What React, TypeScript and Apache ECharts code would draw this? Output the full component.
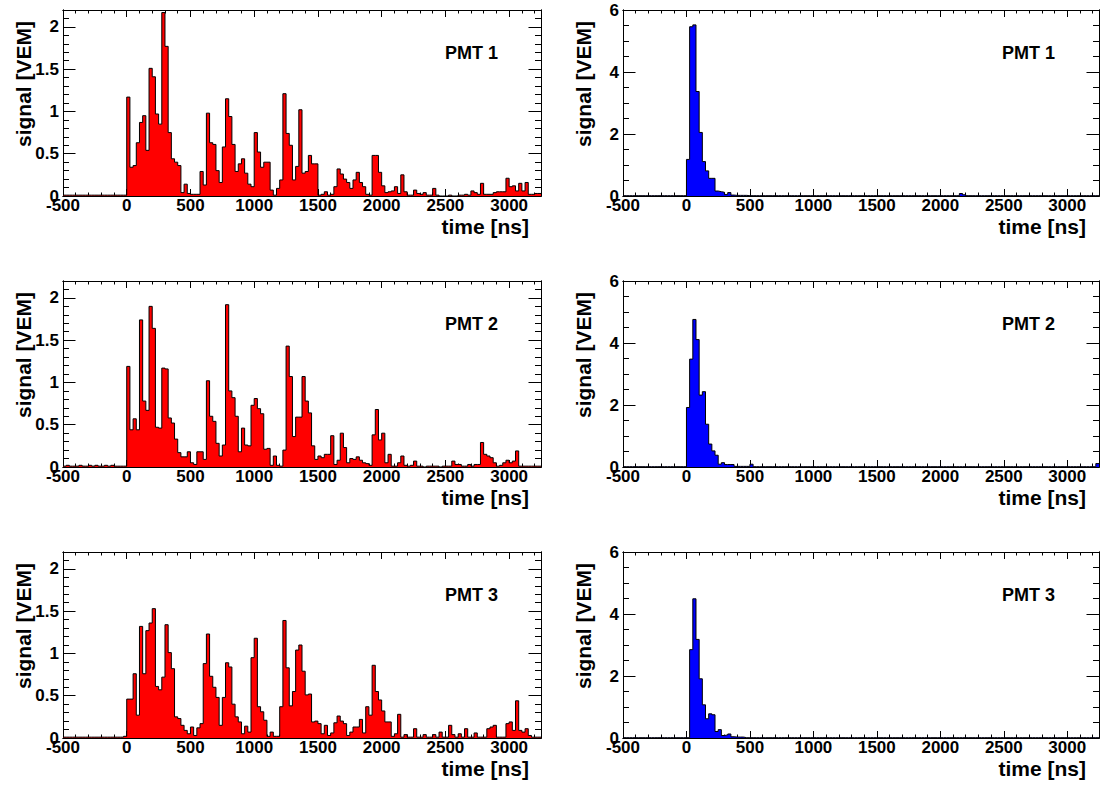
import React, { useEffect, useRef } from "react";
import * as echarts from "echarts";

// ---- binning / axis data ----
const BIN_START = -500; // ns, lower edge of first bin
const BIN_WIDTH = 25; // ns
const X_MIN = -500;
const X_MAX = 3250;
const X_MAJOR = 500;
const X_MINOR = 100;

// pre-trigger bins (-500 .. 0 ns)
const PRE_RED_1 = [0.01, 0.01, 0.01, 0.01, 0.01, 0.01, 0.01, 0.01, 0.01, 0.01, 0.01, 0.01, 0.01, 0.01, 0.01, 0.01, 0.01, 0.01, 0.01, 0.01];
const PRE_RED_2 = [0.01, 0.02, 0.01, 0.01, 0.01, 0.02, 0.01, 0.01, 0.02, 0.01, 0.02, 0.01, 0.01, 0.02, 0.01, 0.02, 0.01, 0.01, 0.01, 0.01];
const PRE_RED_3 = [0.01, 0.01, 0.01, 0.01, 0.01, 0.01, 0.01, 0.01, 0.01, 0.01, 0.01, 0.01, 0.01, 0.01, 0.01, 0.01, 0.01, 0.01, 0.01, 0.02];
const PRE_BLUE_1 = [0.01, 0.01, 0.01, 0.01, 0.01, 0.01, 0.01, 0.01, 0.01, 0.01, 0.01, 0.01, 0.01, 0.01, 0.01, 0.01, 0.01, 0.01, 0.01, 0.01];
const PRE_BLUE_2 = [0.01, 0.01, 0.01, 0.01, 0.01, 0.01, 0.01, 0.01, 0.01, 0.01, 0.01, 0.01, 0.01, 0.01, 0.01, 0.01, 0.01, 0.01, 0.01, 0.01];
const PRE_BLUE_3 = [0.01, 0.01, 0.01, 0.01, 0.01, 0.01, 0.01, 0.01, 0.01, 0.01, 0.01, 0.01, 0.01, 0.01, 0.01, 0.01, 0.01, 0.01, 0.01, 0.01];

// signal bins from 0 ns on [VEM]
const RED_1 = [
  1.17, 0.34, 0.36, 0.63, 0.87, 0.95, 0.54, 1.51, 1.41, 0.97,
  0.85, 2.17, 1.77, 0.75, 0.44, 0.40, 0.36, 0.04, 0.14, 0.03,
  0.02, 0.02, 0.02, 0.29, 0.13, 0.98, 0.63, 0.61, 0.30, 0.16,
  0.58, 1.15, 0.94, 0.61, 0.29, 0.38, 0.44, 0.27, 0.14, 0.11,
  0.75, 0.52, 0.34, 0.40, 0.40, 0.07, 0.01, 0.09, 0.19, 1.21,
  0.74, 0.60, 0.19, 0.35, 1.02, 0.27, 0.29, 0.48, 0.38, 0.38,
  0.01, 0.02, 0.05, 0.01, 0.02, 0.11, 0.32, 0.26, 0.20, 0.16,
  0.09, 0.19, 0.28, 0.16, 0.11, 0.02, 0.01, 0.48, 0.48, 0.28,
  0.12, 0.04, 0.05, 0.06, 0.11, 0.03, 0.25, 0.05, 0.01, 0.01,
  0.07, 0.03, 0.02, 0.04, 0.01, 0.01, 0.09, 0.01, 0.00, 0.00,
  0.00, 0.01, 0.00, 0.00, 0.01, 0.01, 0.02, 0.01, 0.06, 0.04,
  0.02, 0.15, 0.02, 0.02, 0.02, 0.04, 0.05, 0.05, 0.05, 0.21,
  0.11, 0.12, 0.06, 0.15, 0.06, 0.16, 0.02, 0.02, 0.03, 0.03,
];
const RED_2 = [
  1.19, 0.44, 0.57, 0.44, 1.74, 0.78, 0.67, 1.90, 1.64, 0.47,
  0.46, 1.17, 1.16, 0.58, 0.52, 0.33, 0.17, 0.12, 0.12, 0.18,
  0.05, 0.03, 0.18, 0.18, 0.09, 1.02, 0.60, 0.54, 0.28, 0.13,
  0.26, 1.92, 0.90, 0.82, 0.60, 0.18, 0.46, 0.26, 0.25, 0.73,
  0.81, 0.69, 0.63, 0.21, 0.22, 0.02, 0.13, 0.02, 0.01, 0.20,
  1.43, 1.07, 0.36, 0.59, 0.59, 1.07, 0.78, 0.64, 0.25, 0.09,
  0.13, 0.11, 0.15, 0.15, 0.37, 0.03, 0.08, 0.40, 0.23, 0.05,
  0.10, 0.09, 0.12, 0.08, 0.05, 0.04, 0.02, 0.38, 0.68, 0.32,
  0.40, 0.05, 0.15, 0.01, 0.01, 0.05, 0.13, 0.02, 0.01, 0.02,
  0.07, 0.01, 0.01, 0.00, 0.01, 0.01, 0.01, 0.01, 0.00, 0.01,
  0.01, 0.01, 0.07, 0.03, 0.03, 0.01, 0.01, 0.03, 0.01, 0.03,
  0.03, 0.29, 0.15, 0.13, 0.11, 0.05, 0.01, 0.02, 0.05, 0.08,
  0.05, 0.07, 0.19, 0.01, 0.01, 0.01, 0.01, 0.01, 0.01, 0.01,
];
const RED_3 = [
  0.46, 0.46, 0.76, 0.27, 1.32, 0.76, 1.27, 1.36, 1.53, 0.61,
  0.57, 0.72, 1.34, 1.01, 0.82, 0.25, 0.23, 0.15, 0.09, 0.05,
  0.13, 0.03, 0.12, 0.17, 0.88, 1.23, 0.73, 0.60, 0.48, 0.15,
  0.48, 0.89, 0.84, 0.40, 0.25, 0.19, 0.05, 0.14, 0.07, 0.95,
  1.18, 0.37, 0.31, 0.21, 0.02, 0.07, 0.02, 0.02, 0.37, 1.39,
  0.83, 0.38, 0.55, 1.04, 1.10, 0.79, 0.51, 0.52, 0.19, 0.20,
  0.17, 0.05, 0.15, 0.03, 0.06, 0.18, 0.26, 0.20, 0.17, 0.03,
  0.07, 0.13, 0.13, 0.22, 0.06, 0.37, 0.27, 0.86, 0.55, 0.45,
  0.32, 0.19, 0.19, 0.02, 0.05, 0.28, 0.01, 0.04, 0.01, 0.01,
  0.11, 0.01, 0.01, 0.04, 0.01, 0.01, 0.04, 0.01, 0.07, 0.01,
  0.01, 0.15, 0.04, 0.01, 0.05, 0.01, 0.11, 0.01, 0.01, 0.06,
  0.01, 0.01, 0.01, 0.11, 0.13, 0.15, 0.01, 0.01, 0.01, 0.17,
  0.19, 0.09, 0.44, 0.09, 0.07, 0.11, 0.03, 0.01, 0.01, 0.01,
];
const BLUE_1 = [
  1.18, 5.46, 5.52, 3.37, 2.05, 1.11, 0.81, 0.57, 0.57, 0.16,
  0.14, 0.12, 0.05, 0.11, 0.03, 0.02, 0.02, 0.02, 0.02, 0.01,
  0.01, 0.01, 0.01, 0.01, 0.01, 0.01, 0.01, 0.01, 0.01, 0.01,
  0.01, 0.01, 0.01, 0.01, 0.01, 0.01, 0.01, 0.01, 0.01, 0.01,
  0.01, 0.01, 0.01, 0.01, 0.01, 0.01, 0.01, 0.01, 0.01, 0.01,
  0.01, 0.01, 0.01, 0.01, 0.01, 0.01, 0.01, 0.01, 0.01, 0.01,
  0.01, 0.01, 0.01, 0.01, 0.01, 0.01, 0.01, 0.01, 0.01, 0.01,
  0.01, 0.01, 0.01, 0.01, 0.01, 0.01, 0.01, 0.01, 0.01, 0.01,
  0.01, 0.01, 0.01, 0.01, 0.01, 0.01, 0.08, 0.04, 0.01, 0.01,
  0.01, 0.01, 0.01, 0.01, 0.01, 0.01, 0.01, 0.01, 0.01, 0.01,
  0.01, 0.01, 0.01, 0.01, 0.01, 0.01, 0.01, 0.01, 0.01, 0.01,
  0.01, 0.01, 0.01, 0.01, 0.01, 0.01, 0.01, 0.01, 0.01, 0.01,
  0.01, 0.01, 0.01, 0.01, 0.01, 0.01, 0.01, 0.01, 0.01, 0.01,
];
const BLUE_2 = [
  1.92, 3.48, 4.76, 4.11, 2.32, 2.43, 1.38, 0.74, 0.52, 0.38,
  0.09, 0.14, 0.08, 0.08, 0.08, 0.02, 0.02, 0.02, 0.02, 0.02,
  0.09, 0.01, 0.01, 0.01, 0.01, 0.01, 0.01, 0.01, 0.01, 0.01,
  0.01, 0.01, 0.01, 0.01, 0.01, 0.01, 0.01, 0.01, 0.01, 0.01,
  0.01, 0.01, 0.01, 0.01, 0.01, 0.01, 0.01, 0.01, 0.01, 0.01,
  0.01, 0.01, 0.01, 0.01, 0.01, 0.01, 0.01, 0.01, 0.01, 0.01,
  0.01, 0.01, 0.01, 0.01, 0.01, 0.01, 0.01, 0.01, 0.01, 0.01,
  0.01, 0.01, 0.01, 0.01, 0.01, 0.01, 0.01, 0.01, 0.01, 0.01,
  0.01, 0.01, 0.01, 0.01, 0.01, 0.01, 0.01, 0.01, 0.01, 0.01,
  0.01, 0.01, 0.01, 0.01, 0.01, 0.01, 0.01, 0.01, 0.01, 0.01,
  0.01, 0.01, 0.01, 0.01, 0.01, 0.01, 0.01, 0.01, 0.01, 0.01,
  0.01, 0.01, 0.01, 0.01, 0.01, 0.01, 0.01, 0.01, 0.01, 0.01,
  0.01, 0.01, 0.01, 0.01, 0.01, 0.01, 0.01, 0.01, 0.01, 0.11,
];
const BLUE_3 = [
  0.01, 2.85, 4.49, 3.18, 1.91, 1.07, 0.62, 0.78, 0.75, 0.21,
  0.27, 0.08, 0.10, 0.13, 0.04, 0.03, 0.03, 0.03, 0.01, 0.01,
  0.01, 0.01, 0.01, 0.01, 0.01, 0.01, 0.01, 0.01, 0.01, 0.01,
  0.01, 0.01, 0.01, 0.01, 0.01, 0.01, 0.01, 0.01, 0.01, 0.01,
  0.01, 0.01, 0.01, 0.01, 0.01, 0.01, 0.01, 0.01, 0.01, 0.01,
  0.01, 0.01, 0.01, 0.01, 0.01, 0.01, 0.01, 0.01, 0.01, 0.01,
  0.01, 0.01, 0.01, 0.01, 0.01, 0.01, 0.01, 0.01, 0.01, 0.01,
  0.01, 0.01, 0.01, 0.01, 0.01, 0.01, 0.01, 0.01, 0.01, 0.01,
  0.01, 0.01, 0.01, 0.01, 0.01, 0.01, 0.01, 0.01, 0.01, 0.01,
  0.01, 0.01, 0.01, 0.01, 0.01, 0.01, 0.01, 0.01, 0.01, 0.01,
  0.01, 0.01, 0.01, 0.01, 0.01, 0.01, 0.01, 0.01, 0.01, 0.01,
  0.01, 0.01, 0.01, 0.01, 0.01, 0.01, 0.01, 0.01, 0.01, 0.01,
  0.01, 0.01, 0.01, 0.01, 0.01, 0.01, 0.01, 0.01, 0.01, 0.01,
];

const PMT_LABELS = ["PMT 1", "PMT 2", "PMT 3"];
const X_TITLE = "time [ns]";
const Y_TITLE = "signal [VEM]";

// ---- layout ----
const GRID_LEFT = [63, 623];
const GRID_WIDTH = [478, 476];
const GRID_TOP = [10, 281, 552];
const GRID_HEIGHT = 186;
const FONT_FAMILY = '"Liberation Sans", Arial, Helvetica, sans-serif';
const TICK_FONT = 17;
const TITLE_FONT = 21;

type Panel = {
  bins: number[];
  color: string;
  yMax: number;
  yMajor: number;
  yMinor: number;
  showTopLabel: boolean;
  row: number;
  col: number;
};

const PANELS: Panel[] = [
  { bins: [...PRE_RED_1, ...RED_1], color: "#ff0000", yMax: 2.2, yMajor: 0.5, yMinor: 0.1, showTopLabel: false, row: 0, col: 0 },
  { bins: [...PRE_BLUE_1, ...BLUE_1], color: "#0000ff", yMax: 6, yMajor: 2, yMinor: 0.5, showTopLabel: true, row: 0, col: 1 },
  { bins: [...PRE_RED_2, ...RED_2], color: "#ff0000", yMax: 2.2, yMajor: 0.5, yMinor: 0.1, showTopLabel: false, row: 1, col: 0 },
  { bins: [...PRE_BLUE_2, ...BLUE_2], color: "#0000ff", yMax: 6, yMajor: 2, yMinor: 0.5, showTopLabel: true, row: 1, col: 1 },
  { bins: [...PRE_RED_3, ...RED_3], color: "#ff0000", yMax: 2.2, yMajor: 0.5, yMinor: 0.1, showTopLabel: false, row: 2, col: 0 },
  { bins: [...PRE_BLUE_3, ...BLUE_3], color: "#0000ff", yMax: 6, yMajor: 2, yMinor: 0.5, showTopLabel: true, row: 2, col: 1 },
];

const lineStyle = { color: "#000", width: 1 };

function makeXAxis(gi: number, pos: "bottom" | "top", major: boolean, labels: boolean) {
  return {
    type: "value",
    gridIndex: gi,
    position: pos,
    min: X_MIN,
    max: X_MAX,
    interval: major ? X_MAJOR : X_MINOR,
    axisLine: { show: true, onZero: false, lineStyle },
    axisTick: { show: true, inside: true, length: major ? 7 : 3.5, lineStyle },
    minorTick: { show: false },
    splitLine: { show: false },
    axisLabel: {
      show: labels,
      showMinLabel: true,
      showMaxLabel: false,
      margin: 1,
      color: "#000",
      fontSize: TICK_FONT,
      fontWeight: "bold",
      fontFamily: FONT_FAMILY,
      formatter: (v: number) => String(v),
    },
  };
}

function makeYAxis(gi: number, p: Panel, pos: "left" | "right", major: boolean, labels: boolean) {
  return {
    type: "value",
    gridIndex: gi,
    position: pos,
    min: 0,
    max: p.yMax,
    interval: major ? p.yMajor : p.yMinor,
    axisLine: { show: true, onZero: false, lineStyle },
    axisTick: { show: true, inside: true, length: major ? 12.5 : 6, lineStyle },
    minorTick: { show: false },
    splitLine: { show: false },
    axisLabel: {
      show: labels,
      showMinLabel: true,
      showMaxLabel: p.showTopLabel,
      margin: 4,
      color: "#000",
      fontSize: TICK_FONT,
      fontWeight: "bold",
      fontFamily: FONT_FAMILY,
      formatter: (v: number) => String(v),
    },
  };
}

function buildOption() {
  const grid: any[] = [];
  const xAxis: any[] = [];
  const yAxis: any[] = [];
  const series: any[] = [];
  const graphic: any[] = [];

  PANELS.forEach((p, gi) => {
    const left = GRID_LEFT[p.col];
    const width = GRID_WIDTH[p.col];
    const top = GRID_TOP[p.row];
    grid.push({ left, top, width, height: GRID_HEIGHT, containLabel: false, outerBoundsMode: "none" });

    const xi = xAxis.length;
    xAxis.push(makeXAxis(gi, "bottom", true, true));
    xAxis.push(makeXAxis(gi, "bottom", false, false));
    xAxis.push(makeXAxis(gi, "top", true, false));
    xAxis.push(makeXAxis(gi, "top", false, false));
    const yi = yAxis.length;
    yAxis.push(makeYAxis(gi, p, "left", true, true));
    yAxis.push(makeYAxis(gi, p, "left", false, false));
    yAxis.push(makeYAxis(gi, p, "right", true, false));
    yAxis.push(makeYAxis(gi, p, "right", false, false));

    const data: number[][] = p.bins.map((v, k) => [BIN_START + k * BIN_WIDTH, v]);
    data.push([BIN_START + p.bins.length * BIN_WIDTH, p.bins[p.bins.length - 1]]);

    series.push({
      type: "line",
      xAxisIndex: xi,
      yAxisIndex: yi,
      step: "end",
      data,
      symbol: "none",
      showSymbol: false,
      lineStyle: { color: "#000", width: 1 },
      areaStyle: { color: p.color, opacity: 1 },
      silent: true,
      z: 1,
    });

    const font = `bold ${TITLE_FONT}px ${FONT_FAMILY}`;
    graphic.push({
      type: "text",
      x: p.col === 0 ? 23 : 583,
      y: top + 11,
      rotation: Math.PI / 2,
      style: {
        text: Y_TITLE,
        font,
        fill: "#000",
        align: "right",
        verticalAlign: "middle",
        textAlign: "right",
        textVerticalAlign: "middle",
      },
    });
    graphic.push({
      type: "text",
      x: p.col === 0 ? 529 : 1086,
      y: top + GRID_HEIGHT + 30,
      style: {
        text: X_TITLE,
        font,
        fill: "#000",
        align: "right",
        verticalAlign: "middle",
        textAlign: "right",
        textVerticalAlign: "middle",
      },
    });
    graphic.push({
      type: "text",
      x: p.col === 0 ? 445 : 1002,
      y: top + 43,
      style: {
        text: PMT_LABELS[p.row],
        font: `bold 18px ${FONT_FAMILY}`,
        fill: "#000",
        align: "left",
        verticalAlign: "middle",
        textAlign: "left",
        textVerticalAlign: "middle",
      },
    });
  });

  return {
    animation: false,
    backgroundColor: "#fff",
    grid,
    xAxis,
    yAxis,
    series,
    graphic,
  };
}

export default function App() {
  const ref = useRef<HTMLDivElement>(null);
  useEffect(() => {
    if (!ref.current) return;
    const chart = echarts.init(ref.current, undefined, { renderer: "svg" });
    chart.setOption(buildOption() as any);
    return () => chart.dispose();
  }, []);
  return (
    <div
      ref={ref}
      style={{ position: "absolute", left: 0, top: 0, width: 1108, height: 785, background: "#fff" }}
    />
  );
}
